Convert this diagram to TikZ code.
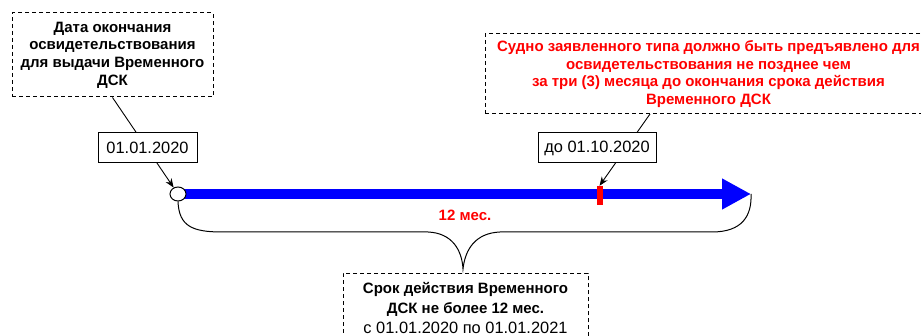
\documentclass[tikz,border=0pt]{standalone}
\usepackage{fontspec}
\setmainfont{Liberation Sans}
\usetikzlibrary{arrows.meta,shapes.geometric,backgrounds}
\tikzset{
  notebox/.style={draw, dashed, dash pattern=on 4pt off 3pt, line width=1pt, fill=white, align=center, inner sep=0pt, font=\bfseries\fontsize{15}{17.6}\selectfont},
  datebox/.style={draw, line width=1pt, fill=white, inner sep=0pt, font=\fontsize{16.4}{19}\selectfont},
  leader/.style={line width=0.9pt, -{Stealth[length=9pt,width=7pt]}},
  bracel/.style={line width=1pt},
}
\begin{document}
\begin{tikzpicture}[x=1pt,y=-1pt]
\useasboundingbox (0,0) rectangle (921,336);
\clip (0,0) rectangle (921,336);
% notes
\node[notebox, minimum width=201pt, minimum height=84pt] (note1) at (112.5,55) {Дата окончания\\освидетельствования\\для выдачи Временного\\ДСК};
\node[notebox, text=red, minimum width=447pt, minimum height=80pt] (note2) at (708.5,74) {Судно заявленного типа должно быть предъявлено для\\освидетельствования не позднее чем\\за три (3) месяца до окончания срока действия\\Временного ДСК};
\node[datebox, minimum width=99pt, minimum height=30pt] (d1) at (147.5,148) {01.01.2020};
\node[datebox, minimum width=118pt, minimum height=30pt] (d2) at (597,148) {до 01.10.2020};
\node[draw, ellipse, line width=1pt, fill=white, minimum width=16pt, minimum height=14pt, inner sep=0pt] (c0) at (178,194) {};
\node[fill=red, minimum width=6pt, minimum height=19pt, inner sep=0pt] (m) at (599.5,195.5) {};
\coordinate (tip) at (751,194);
\coordinate (p2) at (650,114);
\node[text=red, font=\bfseries\fontsize{15}{17.6}\selectfont] (lbl) at (465,215) {12 мес.};
\node[notebox, font=\fontsize{16.4}{20}\selectfont, minimum width=245pt, minimum height=70pt, anchor=north] (note3) at (465.5,273) {\bfseries\fontsize{15}{20}\selectfont Срок действия Временного\\\bfseries\fontsize{15}{20}\selectfont ДСК не более 12 мес.\\с 01.01.2020 по 01.01.2021};
\coordinate (btip) at (463,269);
\begin{scope}[on background layer]
  \fill[white] (0,0) rectangle (921,336);
  \draw[blue, line width=10pt, -{Triangle[length=29pt,width=29pt]}] (c0.center) -- (tip);
  \draw[leader] (note1.south) -- (c0);
  \draw[leader] (p2) -- (m.north);
\end{scope}
% brace
\draw[bracel] (c0.south) .. controls (179,226) and (192,232) .. (222,232)
  -- (428,232) .. controls (452,233) and (462,250) .. (btip)
  .. controls (465,250) and (475,233) .. (500,232)
  -- (712,232) .. controls (742,232) and (752,216) .. (tip);
\end{tikzpicture}
\end{document}
